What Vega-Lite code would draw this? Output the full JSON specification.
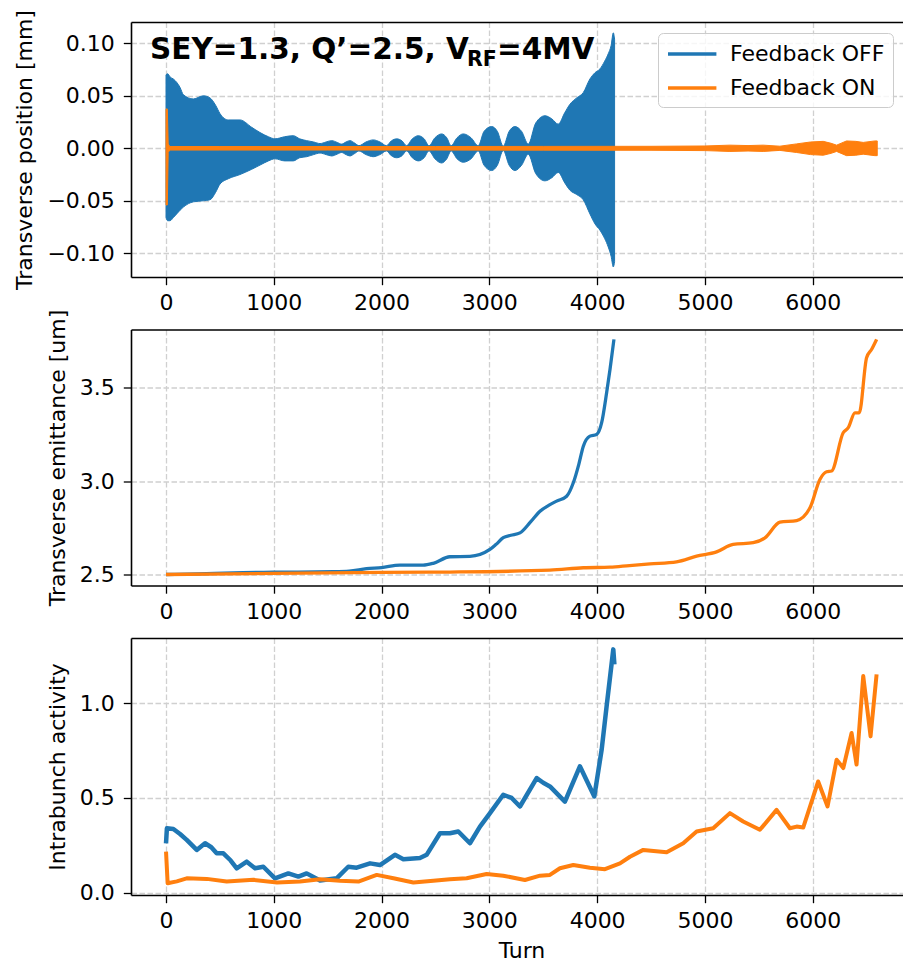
{
  "$schema": "https://vega.github.io/schema/vega-lite/v6.json",
  "padding": {"left": 13, "top": 9, "right": 0, "bottom": 0},
  "background": "white",
  "bounds": "flush",
  "spacing": 52.5,
  "config": {
    "font": "DejaVu Sans",
    "view": {"stroke": null},
    "axis": {"labelFont": "DejaVu Sans", "labelFontSize": 22, "labelColor": "#000", "titleFont": "DejaVu Sans", "titleFontSize": 22, "titleFontWeight": "normal", "titleColor": "#000", "tickColor": "#000", "tickSize": 7.7, "tickWidth": 1.3, "domainColor": "#000", "domainWidth": 1.6, "gridColor": "#d0d0d0", "gridDash": [5.5, 2.5], "gridWidth": 1.3},
    "axisX": {"labelPadding": 8, "titlePadding": 8},
    "axisY": {"labelPadding": 9, "titlePadding": 10}
  },
  "datasets": {
    "pos": [
      {"s": "Feedback OFF", "t": 0, "lo": -0.066, "hi": 0.070},
      {"s": "Feedback OFF", "t": 15, "lo": -0.069, "hi": 0.071},
      {"s": "Feedback OFF", "t": 37, "lo": -0.069, "hi": 0.068},
      {"s": "Feedback OFF", "t": 68, "lo": -0.066, "hi": 0.066},
      {"s": "Feedback OFF", "t": 130, "lo": -0.059, "hi": 0.058},
      {"s": "Feedback OFF", "t": 161, "lo": -0.056, "hi": 0.051},
      {"s": "Feedback OFF", "t": 254, "lo": -0.051, "hi": 0.047},
      {"s": "Feedback OFF", "t": 346, "lo": -0.050, "hi": 0.050},
      {"s": "Feedback OFF", "t": 408, "lo": -0.049, "hi": 0.048},
      {"s": "Feedback OFF", "t": 460, "lo": -0.042, "hi": 0.041},
      {"s": "Feedback OFF", "t": 501, "lo": -0.034, "hi": 0.033},
      {"s": "Feedback OFF", "t": 578, "lo": -0.029, "hi": 0.027},
      {"s": "Feedback OFF", "t": 686, "lo": -0.025, "hi": 0.027},
      {"s": "Feedback OFF", "t": 795, "lo": -0.020, "hi": 0.020},
      {"s": "Feedback OFF", "t": 872, "lo": -0.016, "hi": 0.015},
      {"s": "Feedback OFF", "t": 950, "lo": -0.012, "hi": 0.011},
      {"s": "Feedback OFF", "t": 1011, "lo": -0.010, "hi": 0.009},
      {"s": "Feedback OFF", "t": 1100, "lo": -0.012, "hi": 0.011},
      {"s": "Feedback OFF", "t": 1181, "lo": -0.012, "hi": 0.012},
      {"s": "Feedback OFF", "t": 1240, "lo": -0.009, "hi": 0.009},
      {"s": "Feedback OFF", "t": 1305, "lo": -0.008, "hi": 0.0073},
      {"s": "Feedback OFF", "t": 1370, "lo": -0.006, "hi": 0.006},
      {"s": "Feedback OFF", "t": 1429, "lo": -0.0045, "hi": 0.0045},
      {"s": "Feedback OFF", "t": 1485, "lo": -0.006, "hi": 0.006},
      {"s": "Feedback OFF", "t": 1537, "lo": -0.0073, "hi": 0.0073},
      {"s": "Feedback OFF", "t": 1590, "lo": -0.0055, "hi": 0.0055},
      {"s": "Feedback OFF", "t": 1630, "lo": -0.004, "hi": 0.004},
      {"s": "Feedback OFF", "t": 1670, "lo": -0.006, "hi": 0.006},
      {"s": "Feedback OFF", "t": 1707, "lo": -0.0073, "hi": 0.0073},
      {"s": "Feedback OFF", "t": 1750, "lo": -0.005, "hi": 0.005},
      {"s": "Feedback OFF", "t": 1790, "lo": -0.0025, "hi": 0.0025},
      {"s": "Feedback OFF", "t": 1855, "lo": -0.006, "hi": 0.006},
      {"s": "Feedback OFF", "t": 1923, "lo": -0.008, "hi": 0.008},
      {"s": "Feedback OFF", "t": 1985, "lo": -0.006, "hi": 0.006},
      {"s": "Feedback OFF", "t": 2045, "lo": -0.0025, "hi": 0.0025},
      {"s": "Feedback OFF", "t": 2090, "lo": -0.007, "hi": 0.007},
      {"s": "Feedback OFF", "t": 2140, "lo": -0.009, "hi": 0.009},
      {"s": "Feedback OFF", "t": 2190, "lo": -0.007, "hi": 0.007},
      {"s": "Feedback OFF", "t": 2232, "lo": -0.0025, "hi": 0.0025},
      {"s": "Feedback OFF", "t": 2285, "lo": -0.009, "hi": 0.009},
      {"s": "Feedback OFF", "t": 2341, "lo": -0.012, "hi": 0.012},
      {"s": "Feedback OFF", "t": 2395, "lo": -0.009, "hi": 0.009},
      {"s": "Feedback OFF", "t": 2440, "lo": -0.0025, "hi": 0.0025},
      {"s": "Feedback OFF", "t": 2495, "lo": -0.010, "hi": 0.010},
      {"s": "Feedback OFF", "t": 2557, "lo": -0.014, "hi": 0.0137},
      {"s": "Feedback OFF", "t": 2605, "lo": -0.010, "hi": 0.010},
      {"s": "Feedback OFF", "t": 2645, "lo": -0.0025, "hi": 0.0025},
      {"s": "Feedback OFF", "t": 2700, "lo": -0.010, "hi": 0.010},
      {"s": "Feedback OFF", "t": 2758, "lo": -0.0133, "hi": 0.0137},
      {"s": "Feedback OFF", "t": 2830, "lo": -0.010, "hi": 0.010},
      {"s": "Feedback OFF", "t": 2897, "lo": -0.0025, "hi": 0.0025},
      {"s": "Feedback OFF", "t": 2950, "lo": -0.016, "hi": 0.016},
      {"s": "Feedback OFF", "t": 3021, "lo": -0.0212, "hi": 0.0207},
      {"s": "Feedback OFF", "t": 3075, "lo": -0.016, "hi": 0.016},
      {"s": "Feedback OFF", "t": 3129, "lo": -0.002, "hi": 0.002},
      {"s": "Feedback OFF", "t": 3183, "lo": -0.016, "hi": 0.016},
      {"s": "Feedback OFF", "t": 3237, "lo": -0.0212, "hi": 0.0207},
      {"s": "Feedback OFF", "t": 3300, "lo": -0.016, "hi": 0.016},
      {"s": "Feedback OFF", "t": 3361, "lo": -0.0057, "hi": 0.004},
      {"s": "Feedback OFF", "t": 3430, "lo": -0.024, "hi": 0.024},
      {"s": "Feedback OFF", "t": 3516, "lo": -0.031, "hi": 0.031},
      {"s": "Feedback OFF", "t": 3580, "lo": -0.028, "hi": 0.028},
      {"s": "Feedback OFF", "t": 3639, "lo": -0.023, "hi": 0.023},
      {"s": "Feedback OFF", "t": 3700, "lo": -0.033, "hi": 0.034},
      {"s": "Feedback OFF", "t": 3748, "lo": -0.040, "hi": 0.042},
      {"s": "Feedback OFF", "t": 3810, "lo": -0.044, "hi": 0.048},
      {"s": "Feedback OFF", "t": 3871, "lo": -0.049, "hi": 0.053},
      {"s": "Feedback OFF", "t": 3933, "lo": -0.0625, "hi": 0.066},
      {"s": "Feedback OFF", "t": 3980, "lo": -0.072, "hi": 0.072},
      {"s": "Feedback OFF", "t": 4026, "lo": -0.078, "hi": 0.0756},
      {"s": "Feedback OFF", "t": 4070, "lo": -0.086, "hi": 0.083},
      {"s": "Feedback OFF", "t": 4103, "lo": -0.094, "hi": 0.090},
      {"s": "Feedback OFF", "t": 4130, "lo": -0.103, "hi": 0.098},
      {"s": "Feedback OFF", "t": 4150, "lo": -0.113, "hi": 0.110},
      {"s": "Feedback OFF", "t": 4162, "lo": -0.108, "hi": 0.104},
      {"s": "Feedback ON", "t": 0, "lo": -0.054, "hi": 0.0375},
      {"s": "Feedback ON", "t": 12, "lo": -0.054, "hi": 0.0375},
      {"s": "Feedback ON", "t": 20, "lo": -0.004, "hi": 0.004},
      {"s": "Feedback ON", "t": 35, "lo": -0.0017, "hi": 0.0017},
      {"s": "Feedback ON", "t": 500, "lo": -0.0017, "hi": 0.0017},
      {"s": "Feedback ON", "t": 1500, "lo": -0.0017, "hi": 0.0017},
      {"s": "Feedback ON", "t": 2500, "lo": -0.0017, "hi": 0.0017},
      {"s": "Feedback ON", "t": 3500, "lo": -0.0018, "hi": 0.0018},
      {"s": "Feedback ON", "t": 4500, "lo": -0.0019, "hi": 0.0019},
      {"s": "Feedback ON", "t": 5000, "lo": -0.0022, "hi": 0.0022},
      {"s": "Feedback ON", "t": 5232, "lo": -0.003, "hi": 0.003},
      {"s": "Feedback ON", "t": 5400, "lo": -0.0026, "hi": 0.0026},
      {"s": "Feedback ON", "t": 5541, "lo": -0.003, "hi": 0.003},
      {"s": "Feedback ON", "t": 5696, "lo": -0.002, "hi": 0.002},
      {"s": "Feedback ON", "t": 5851, "lo": -0.004, "hi": 0.0042},
      {"s": "Feedback ON", "t": 5980, "lo": -0.006, "hi": 0.006},
      {"s": "Feedback ON", "t": 6098, "lo": -0.0066, "hi": 0.0066},
      {"s": "Feedback ON", "t": 6170, "lo": -0.0048, "hi": 0.0048},
      {"s": "Feedback ON", "t": 6222, "lo": -0.003, "hi": 0.003},
      {"s": "Feedback ON", "t": 6314, "lo": -0.007, "hi": 0.007},
      {"s": "Feedback ON", "t": 6400, "lo": -0.0066, "hi": 0.0066},
      {"s": "Feedback ON", "t": 6469, "lo": -0.0056, "hi": 0.0056},
      {"s": "Feedback ON", "t": 6577, "lo": -0.007, "hi": 0.007},
      {"s": "Feedback ON", "t": 6599, "lo": -0.007, "hi": 0.007}
    ],
    "emit": [
      {"s": "Feedback OFF", "t": 0, "v": 2.500},
      {"s": "Feedback OFF", "t": 300, "v": 2.503},
      {"s": "Feedback OFF", "t": 625, "v": 2.509},
      {"s": "Feedback OFF", "t": 1000, "v": 2.512},
      {"s": "Feedback OFF", "t": 1550, "v": 2.515},
      {"s": "Feedback OFF", "t": 1700, "v": 2.518},
      {"s": "Feedback OFF", "t": 1860, "v": 2.531},
      {"s": "Feedback OFF", "t": 2000, "v": 2.537},
      {"s": "Feedback OFF", "t": 2170, "v": 2.550},
      {"s": "Feedback OFF", "t": 2385, "v": 2.550},
      {"s": "Feedback OFF", "t": 2480, "v": 2.560},
      {"s": "Feedback OFF", "t": 2634, "v": 2.595},
      {"s": "Feedback OFF", "t": 2820, "v": 2.597},
      {"s": "Feedback OFF", "t": 3005, "v": 2.634},
      {"s": "Feedback OFF", "t": 3060, "v": 2.660},
      {"s": "Feedback OFF", "t": 3129, "v": 2.697},
      {"s": "Feedback OFF", "t": 3200, "v": 2.710},
      {"s": "Feedback OFF", "t": 3284, "v": 2.723},
      {"s": "Feedback OFF", "t": 3380, "v": 2.780},
      {"s": "Feedback OFF", "t": 3470, "v": 2.839},
      {"s": "Feedback OFF", "t": 3550, "v": 2.870},
      {"s": "Feedback OFF", "t": 3624, "v": 2.893},
      {"s": "Feedback OFF", "t": 3717, "v": 2.919},
      {"s": "Feedback OFF", "t": 3779, "v": 2.991},
      {"s": "Feedback OFF", "t": 3830, "v": 3.090},
      {"s": "Feedback OFF", "t": 3872, "v": 3.187},
      {"s": "Feedback OFF", "t": 3933, "v": 3.241},
      {"s": "Feedback OFF", "t": 3995, "v": 3.250},
      {"s": "Feedback OFF", "t": 4042, "v": 3.313},
      {"s": "Feedback OFF", "t": 4088, "v": 3.473},
      {"s": "Feedback OFF", "t": 4120, "v": 3.600},
      {"s": "Feedback OFF", "t": 4156, "v": 3.759},
      {"s": "Feedback ON", "t": 0, "v": 2.500},
      {"s": "Feedback ON", "t": 1000, "v": 2.506},
      {"s": "Feedback ON", "t": 2000, "v": 2.511},
      {"s": "Feedback ON", "t": 2634, "v": 2.513},
      {"s": "Feedback ON", "t": 3562, "v": 2.523},
      {"s": "Feedback ON", "t": 3872, "v": 2.536},
      {"s": "Feedback ON", "t": 4119, "v": 2.539},
      {"s": "Feedback ON", "t": 4300, "v": 2.548},
      {"s": "Feedback ON", "t": 4490, "v": 2.557},
      {"s": "Feedback ON", "t": 4737, "v": 2.568},
      {"s": "Feedback ON", "t": 4923, "v": 2.598},
      {"s": "Feedback ON", "t": 5108, "v": 2.621},
      {"s": "Feedback ON", "t": 5262, "v": 2.661},
      {"s": "Feedback ON", "t": 5448, "v": 2.670},
      {"s": "Feedback ON", "t": 5557, "v": 2.696},
      {"s": "Feedback ON", "t": 5696, "v": 2.780},
      {"s": "Feedback ON", "t": 5851, "v": 2.789},
      {"s": "Feedback ON", "t": 5975, "v": 2.857},
      {"s": "Feedback ON", "t": 6067, "v": 3.009},
      {"s": "Feedback ON", "t": 6129, "v": 3.050},
      {"s": "Feedback ON", "t": 6175, "v": 3.054},
      {"s": "Feedback ON", "t": 6283, "v": 3.259},
      {"s": "Feedback ON", "t": 6330, "v": 3.286},
      {"s": "Feedback ON", "t": 6392, "v": 3.366},
      {"s": "Feedback ON", "t": 6432, "v": 3.366},
      {"s": "Feedback ON", "t": 6500, "v": 3.661},
      {"s": "Feedback ON", "t": 6546, "v": 3.705},
      {"s": "Feedback ON", "t": 6593, "v": 3.759}
    ],
    "act": [
      {"s": "Feedback OFF", "t": 0, "v": 0.261},
      {"s": "Feedback OFF", "t": 8, "v": 0.340},
      {"s": "Feedback OFF", "t": 68, "v": 0.336},
      {"s": "Feedback OFF", "t": 130, "v": 0.310},
      {"s": "Feedback OFF", "t": 192, "v": 0.279},
      {"s": "Feedback OFF", "t": 285, "v": 0.226},
      {"s": "Feedback OFF", "t": 362, "v": 0.261},
      {"s": "Feedback OFF", "t": 420, "v": 0.240},
      {"s": "Feedback OFF", "t": 470, "v": 0.208},
      {"s": "Feedback OFF", "t": 532, "v": 0.208},
      {"s": "Feedback OFF", "t": 600, "v": 0.170},
      {"s": "Feedback OFF", "t": 656, "v": 0.129},
      {"s": "Feedback OFF", "t": 749, "v": 0.164},
      {"s": "Feedback OFF", "t": 826, "v": 0.129},
      {"s": "Feedback OFF", "t": 903, "v": 0.137},
      {"s": "Feedback OFF", "t": 1011, "v": 0.076},
      {"s": "Feedback OFF", "t": 1135, "v": 0.102},
      {"s": "Feedback OFF", "t": 1228, "v": 0.085},
      {"s": "Feedback OFF", "t": 1305, "v": 0.102},
      {"s": "Feedback OFF", "t": 1429, "v": 0.064},
      {"s": "Feedback OFF", "t": 1583, "v": 0.076},
      {"s": "Feedback OFF", "t": 1691, "v": 0.137},
      {"s": "Feedback OFF", "t": 1769, "v": 0.132},
      {"s": "Feedback OFF", "t": 1893, "v": 0.155},
      {"s": "Feedback OFF", "t": 1985, "v": 0.146},
      {"s": "Feedback OFF", "t": 2124, "v": 0.200},
      {"s": "Feedback OFF", "t": 2202, "v": 0.177},
      {"s": "Feedback OFF", "t": 2356, "v": 0.183},
      {"s": "Feedback OFF", "t": 2418, "v": 0.200},
      {"s": "Feedback OFF", "t": 2542, "v": 0.314},
      {"s": "Feedback OFF", "t": 2634, "v": 0.314},
      {"s": "Feedback OFF", "t": 2712, "v": 0.323},
      {"s": "Feedback OFF", "t": 2820, "v": 0.261},
      {"s": "Feedback OFF", "t": 2913, "v": 0.349},
      {"s": "Feedback OFF", "t": 3006, "v": 0.420},
      {"s": "Feedback OFF", "t": 3129, "v": 0.517},
      {"s": "Feedback OFF", "t": 3207, "v": 0.500},
      {"s": "Feedback OFF", "t": 3284, "v": 0.455},
      {"s": "Feedback OFF", "t": 3439, "v": 0.605},
      {"s": "Feedback OFF", "t": 3500, "v": 0.580},
      {"s": "Feedback OFF", "t": 3562, "v": 0.561},
      {"s": "Feedback OFF", "t": 3701, "v": 0.481},
      {"s": "Feedback OFF", "t": 3840, "v": 0.667},
      {"s": "Feedback OFF", "t": 3974, "v": 0.508},
      {"s": "Feedback OFF", "t": 4042, "v": 0.755},
      {"s": "Feedback OFF", "t": 4088, "v": 0.984},
      {"s": "Feedback OFF", "t": 4150, "v": 1.284},
      {"s": "Feedback OFF", "t": 4160, "v": 1.205},
      {"s": "Feedback ON", "t": 0, "v": 0.217},
      {"s": "Feedback ON", "t": 15, "v": 0.050},
      {"s": "Feedback ON", "t": 100, "v": 0.060},
      {"s": "Feedback ON", "t": 192, "v": 0.076},
      {"s": "Feedback ON", "t": 378, "v": 0.073},
      {"s": "Feedback ON", "t": 563, "v": 0.059},
      {"s": "Feedback ON", "t": 811, "v": 0.068},
      {"s": "Feedback ON", "t": 1030, "v": 0.054},
      {"s": "Feedback ON", "t": 1243, "v": 0.059},
      {"s": "Feedback ON", "t": 1429, "v": 0.071},
      {"s": "Feedback ON", "t": 1614, "v": 0.063},
      {"s": "Feedback ON", "t": 1785, "v": 0.059},
      {"s": "Feedback ON", "t": 1955, "v": 0.094},
      {"s": "Feedback ON", "t": 2110, "v": 0.076},
      {"s": "Feedback ON", "t": 2295, "v": 0.054},
      {"s": "Feedback ON", "t": 2480, "v": 0.063},
      {"s": "Feedback ON", "t": 2634, "v": 0.071},
      {"s": "Feedback ON", "t": 2789, "v": 0.076},
      {"s": "Feedback ON", "t": 2975, "v": 0.099},
      {"s": "Feedback ON", "t": 3129, "v": 0.090},
      {"s": "Feedback ON", "t": 3330, "v": 0.067},
      {"s": "Feedback ON", "t": 3470, "v": 0.090},
      {"s": "Feedback ON", "t": 3562, "v": 0.094},
      {"s": "Feedback ON", "t": 3655, "v": 0.129},
      {"s": "Feedback ON", "t": 3779, "v": 0.146},
      {"s": "Feedback ON", "t": 3933, "v": 0.132},
      {"s": "Feedback ON", "t": 4073, "v": 0.124},
      {"s": "Feedback ON", "t": 4212, "v": 0.155},
      {"s": "Feedback ON", "t": 4305, "v": 0.190},
      {"s": "Feedback ON", "t": 4428, "v": 0.226},
      {"s": "Feedback ON", "t": 4645, "v": 0.213},
      {"s": "Feedback ON", "t": 4799, "v": 0.261},
      {"s": "Feedback ON", "t": 4923, "v": 0.323},
      {"s": "Feedback ON", "t": 5077, "v": 0.340},
      {"s": "Feedback ON", "t": 5232, "v": 0.420},
      {"s": "Feedback ON", "t": 5355, "v": 0.376},
      {"s": "Feedback ON", "t": 5510, "v": 0.332},
      {"s": "Feedback ON", "t": 5665, "v": 0.437},
      {"s": "Feedback ON", "t": 5789, "v": 0.340},
      {"s": "Feedback ON", "t": 5851, "v": 0.349},
      {"s": "Feedback ON", "t": 5912, "v": 0.344},
      {"s": "Feedback ON", "t": 6051, "v": 0.587},
      {"s": "Feedback ON", "t": 6138, "v": 0.455},
      {"s": "Feedback ON", "t": 6222, "v": 0.702},
      {"s": "Feedback ON", "t": 6284, "v": 0.658},
      {"s": "Feedback ON", "t": 6361, "v": 0.843},
      {"s": "Feedback ON", "t": 6407, "v": 0.676},
      {"s": "Feedback ON", "t": 6469, "v": 1.143},
      {"s": "Feedback ON", "t": 6537, "v": 0.825},
      {"s": "Feedback ON", "t": 6593, "v": 1.152}
    ]
  },
  "resolve": {"scale": {"stroke": "independent", "color": "independent"}, "legend": {"stroke": "independent"}},
  "vconcat": [
    {
      "width": 772,
      "height": 255,
      "resolve": {"axis": {"x": "independent"}},
      "layer": [
        {
          "data": {"name": "pos"},
          "transform": [{"filter": "datum.s == 'Feedback OFF'"}],
          "mark": {"type": "area", "interpolate": "monotone", "strokeWidth": 1, "fill": "#1f77b4", "fillOpacity": 1, "clip": true},
          "encoding": {
            "x": {"field": "t", "type": "quantitative", "scale": {"domain": [-325, 6838], "nice": false, "zero": false}, "axis": {"values": [0, 1000, 2000, 3000, 4000, 5000, 6000], "format": "d", "title": null}},
            "y": {"field": "lo", "type": "quantitative", "title": "Transverse position [mm]", "scale": {"domain": [-0.1226, 0.1203], "nice": false, "zero": false}, "axis": {"values": [-0.1, -0.05, 0, 0.05, 0.1], "format": ".2f"}},
            "y2": {"field": "hi"},
            "stroke": {"field": "s", "type": "nominal", "scale": {"domain": ["Feedback OFF", "Feedback ON"], "range": ["#1f77b4", "#ff7f0e"]}, "legend": {"title": null, "orient": "none", "legendX": 527, "legendY": 11, "symbolType": "M-1,0H3.4", "symbolSize": 484, "symbolStrokeWidth": 3.3, "labelFontSize": 22, "labelFont": "DejaVu Sans", "labelColor": "#000", "labelOffset": 38, "padding": 8, "rowPadding": 10, "strokeColor": "#cccccc", "fillColor": "rgba(255,255,255,0.8)", "cornerRadius": 5, "labelLimit": 300}}
          }
        },
        {
          "data": {"name": "pos"},
          "transform": [{"filter": "datum.s == 'Feedback ON'"}],
          "mark": {"type": "area", "strokeWidth": 1, "fill": "#ff7f0e", "fillOpacity": 1, "clip": true},
          "encoding": {
            "x": {"field": "t", "type": "quantitative", "scale": {"domain": [-325, 6838], "nice": false, "zero": false}, "axis": {"orient": "top", "labels": false, "ticks": false, "grid": false, "title": null, "domain": true}},
            "y": {"field": "lo", "type": "quantitative", "title": "Transverse position [mm]", "scale": {"domain": [-0.1226, 0.1203], "nice": false, "zero": false}},
            "y2": {"field": "hi"},
            "stroke": {"field": "s", "type": "nominal", "scale": {"domain": ["Feedback OFF", "Feedback ON"], "range": ["#1f77b4", "#ff7f0e"]}}
          }
        },
        {
          "data": {"values": [{"t": -148, "v": 0.0854, "txt": "SEY=1.3, Q’=2.5, V"}]},
          "mark": {"type": "text", "align": "left", "baseline": "alphabetic", "font": "DejaVu Sans", "fontWeight": "bold", "fontSize": 29.5, "color": "#000"},
          "encoding": {
            "x": {"field": "t", "type": "quantitative", "scale": {"domain": [-325, 6838], "nice": false, "zero": false}, "axis": null},
            "y": {"field": "v", "type": "quantitative", "title": "Transverse position [mm]", "scale": {"domain": [-0.1226, 0.1203], "nice": false, "zero": false}},
            "text": {"field": "txt"}
          }
        },
        {
          "data": {"values": [{"t": 2792, "v": 0.0788, "txt": "RF"}]},
          "mark": {"type": "text", "align": "left", "baseline": "alphabetic", "font": "DejaVu Sans", "fontWeight": "bold", "fontSize": 20.5, "color": "#000"},
          "encoding": {
            "x": {"field": "t", "type": "quantitative", "scale": {"domain": [-325, 6838], "nice": false, "zero": false}, "axis": null},
            "y": {"field": "v", "type": "quantitative", "title": "Transverse position [mm]", "scale": {"domain": [-0.1226, 0.1203], "nice": false, "zero": false}},
            "text": {"field": "txt"}
          }
        },
        {
          "data": {"values": [{"t": 3071, "v": 0.0854, "txt": "=4MV"}]},
          "mark": {"type": "text", "align": "left", "baseline": "alphabetic", "font": "DejaVu Sans", "fontWeight": "bold", "fontSize": 29.5, "color": "#000"},
          "encoding": {
            "x": {"field": "t", "type": "quantitative", "scale": {"domain": [-325, 6838], "nice": false, "zero": false}, "axis": null},
            "y": {"field": "v", "type": "quantitative", "title": "Transverse position [mm]", "scale": {"domain": [-0.1226, 0.1203], "nice": false, "zero": false}},
            "text": {"field": "txt"}
          }
        }
      ]
    },
    {
      "width": 772,
      "height": 256,
      "resolve": {"axis": {"x": "independent"}},
      "layer": [
        {
          "data": {"name": "emit"},
          "transform": [{"filter": "datum.s == 'Feedback OFF'"}],
          "mark": {"type": "line", "strokeWidth": 3.3, "interpolate": "monotone", "clip": true},
          "encoding": {
            "x": {"field": "t", "type": "quantitative", "scale": {"domain": [-325, 6838], "nice": false, "zero": false}, "axis": {"values": [0, 1000, 2000, 3000, 4000, 5000, 6000], "format": "d", "title": null}},
            "y": {"field": "v", "type": "quantitative", "title": "Transverse emittance [um]", "scale": {"domain": [2.441, 3.812], "nice": false, "zero": false}, "axis": {"values": [2.5, 3.0, 3.5], "format": ".1f"}},
            "color": {"field": "s", "type": "nominal", "scale": {"domain": ["Feedback OFF", "Feedback ON"], "range": ["#1f77b4", "#ff7f0e"]}, "legend": null}
          }
        },
        {
          "data": {"name": "emit"},
          "transform": [{"filter": "datum.s == 'Feedback ON'"}],
          "mark": {"type": "line", "strokeWidth": 3.3, "interpolate": "monotone", "clip": true},
          "encoding": {
            "x": {"field": "t", "type": "quantitative", "scale": {"domain": [-325, 6838], "nice": false, "zero": false}, "axis": {"orient": "top", "labels": false, "ticks": false, "grid": false, "title": null, "domain": true}},
            "y": {"field": "v", "type": "quantitative", "title": "Transverse emittance [um]", "scale": {"domain": [2.441, 3.812], "nice": false, "zero": false}},
            "color": {"field": "s", "type": "nominal", "scale": {"domain": ["Feedback OFF", "Feedback ON"], "range": ["#1f77b4", "#ff7f0e"]}, "legend": null}
          }
        }
      ]
    },
    {
      "width": 772,
      "height": 257,
      "resolve": {"axis": {"x": "independent"}},
      "layer": [
        {
          "data": {"name": "act"},
          "transform": [{"filter": "datum.s == 'Feedback OFF'"}],
          "mark": {"type": "line", "strokeWidth": 4.5, "strokeJoin": "round", "clip": true},
          "encoding": {
            "x": {"field": "t", "type": "quantitative", "title": "Turn", "scale": {"domain": [-325, 6838], "nice": false, "zero": false}, "axis": {"values": [0, 1000, 2000, 3000, 4000, 5000, 6000], "format": "d", "titleBaseline": "alphabetic", "titlePadding": 26, "titleX": 390.5}},
            "y": {"field": "v", "type": "quantitative", "title": "Intrabunch activity", "scale": {"domain": [-0.012, 1.344], "nice": false, "zero": false}, "axis": {"values": [0, 0.5, 1.0], "format": ".1f"}},
            "color": {"field": "s", "type": "nominal", "scale": {"domain": ["Feedback OFF", "Feedback ON"], "range": ["#1f77b4", "#ff7f0e"]}, "legend": null}
          }
        },
        {
          "data": {"name": "act"},
          "transform": [{"filter": "datum.s == 'Feedback ON'"}],
          "mark": {"type": "line", "strokeWidth": 4, "strokeJoin": "round", "clip": true},
          "encoding": {
            "x": {"field": "t", "type": "quantitative", "scale": {"domain": [-325, 6838], "nice": false, "zero": false}, "axis": {"orient": "top", "labels": false, "ticks": false, "grid": false, "title": null, "domain": true}},
            "y": {"field": "v", "type": "quantitative", "title": "Intrabunch activity", "scale": {"domain": [-0.012, 1.344], "nice": false, "zero": false}},
            "color": {"field": "s", "type": "nominal", "scale": {"domain": ["Feedback OFF", "Feedback ON"], "range": ["#1f77b4", "#ff7f0e"]}, "legend": null}
          }
        }
      ]
    }
  ]
}
